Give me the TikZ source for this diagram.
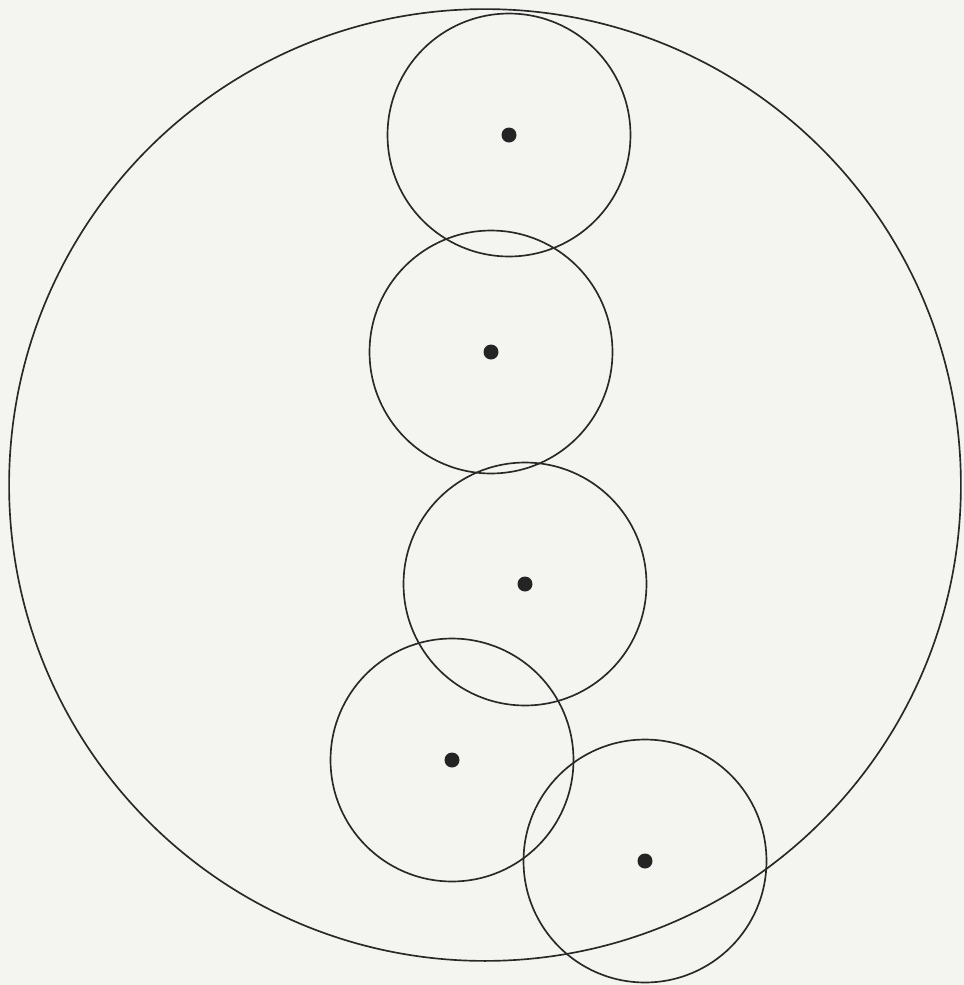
\documentclass[tikz,border=0pt]{standalone}
\usepackage{tikz}
\usetikzlibrary{positioning}
\definecolor{ink}{RGB}{40,40,40}
\definecolor{paper}{RGB}{244,244,240}

\begin{document}
\begin{tikzpicture}[x=0.02cm,y=-0.02cm,
    ring/.style={draw=ink,line width=0.95pt,circle,inner sep=0pt},
    dot/.style={fill=ink!90!black,circle,inner sep=0pt,minimum size=0.3cm}]
  \fill[paper] (0,0) rectangle (964,985);
  \useasboundingbox (0,0) rectangle (964,985);
  \node[ring,minimum size=19.04cm] (rim) at (485,485) {};
  \foreach \x/\y/\n in {509/135/a,491/352/b,525/584/c,452/760/d,645/861/e}{
    \node[ring,minimum size=4.86cm] (ring\n) at (\x,\y) {};
    \node[dot] (dot\n) at (ring\n.center) {};
  }
\end{tikzpicture}
\end{document}
